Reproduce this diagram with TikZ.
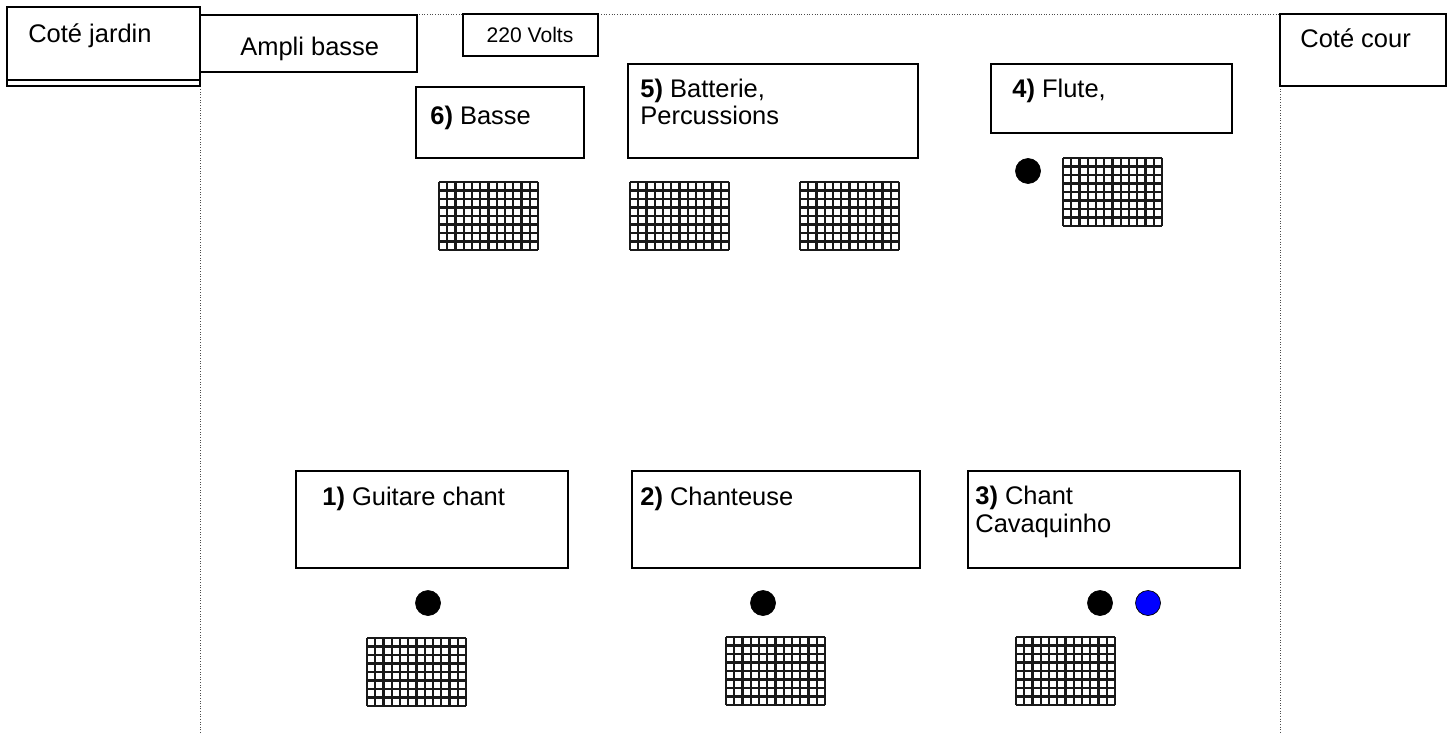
\documentclass[tikz,border=0pt]{standalone}
\usepackage{fontspec}
\setmainfont{Liberation Sans}
\usepackage{tikz}
\usetikzlibrary{calc}
\newcommand{\cadre}[4]{\draw[boite] (#1,#2) rectangle (#3,#4);}
\newcommand{\enceinte}[2]{\draw[hpgrid,shift={(#1,#2)},yscale=-1] (0,-68) grid (99,0);}

\begin{document}
\begin{tikzpicture}[x=0.02cm,y=-0.02cm,
    boite/.style={draw=black,line width=0.8pt,fill=white},
    txt/.style={font=\fontsize{14.5}{15.5}\selectfont,inner sep=0pt,anchor=base west,align=left},
    petit/.style={font=\fontsize{12}{14}\selectfont,inner sep=0pt,anchor=base},
    scene/.style={gray!60!black,line width=0.5pt,densely dotted},
    hpgrid/.style={black!90,line width=1.3pt,xstep=0.165cm,ystep=0.17cm},
    micro/.style={circle,draw=black,fill=black,minimum size=0.5cm,inner sep=0pt}]
    \useasboundingbox (0,0) rectangle (1452,733);
    \coordinate (O) at (0,0);

    % scene
    \draw[scene] (200,733) -- (200,14) -- (1280,14) -- (1280,733);

    % cotes
    \cadre{7}{7}{200}{86}
    \draw[line width=0.8pt] (7,80) -- (200,80);
    \cadre{200}{15}{417}{72}
    \cadre{463}{14}{598}{56}
    \cadre{1280}{14}{1446}{86}
    \node[txt] (jardin) at ($(O)+(28,43)$) {Coté jardin};
    \node[txt] (ampli) at ($(O)+(240,56)$) {Ampli basse};
    \node[petit] (volts) at ($(O)+(530,43)$) {220 Volts};
    \node[txt] (cour) at ($(O)+(1300,48)$) {Coté cour};

    % fond de scene
    \cadre{416}{87}{584}{158}
    \cadre{628}{64}{918}{158}
    \cadre{991}{64}{1232}{133}
    \node[txt] (basse) at ($(O)+(430,125)$) {\textbf{6)} Basse};
    \node[txt] (batterie) at ($(O)+(640,125)$) {\textbf{5)} Batterie,\\Percussions};
    \node[txt] (flute) at ($(O)+(1012,98)$) {\textbf{4)} Flute,};

    \enceinte{439}{182}
    \enceinte{630}{182}
    \enceinte{800}{182}
    \enceinte{1063}{158}
    \node[micro] (m4) at ($(O)+(1028,171)$) {};

    % devant
    \cadre{296}{471}{568}{568}
    \cadre{632}{471}{920}{568}
    \cadre{968}{471}{1240}{568}
    \node[txt] (guitare) at ($(O)+(322,505)$) {\textbf{1)} Guitare chant};
    \node[txt] (chanteuse) at ($(O)+(640,505)$) {\textbf{2)} Chanteuse};
    \node[txt] (cavaquinho) at ($(O)+(975,532)$) {\textbf{3)} Chant\\Cavaquinho};

    \node[micro] (m1) at ($(O)+(428,603)$) {};
    \node[micro] (m2) at ($(O)+(763,603)$) {};
    \node[micro] (m3) at ($(O)+(1100,603)$) {};
    \node[micro,fill=blue] (m3b) at ($(O)+(1148,603)$) {};

    \enceinte{367}{638}
    \enceinte{726}{637}
    \enceinte{1016}{637}
\end{tikzpicture}
\end{document}
